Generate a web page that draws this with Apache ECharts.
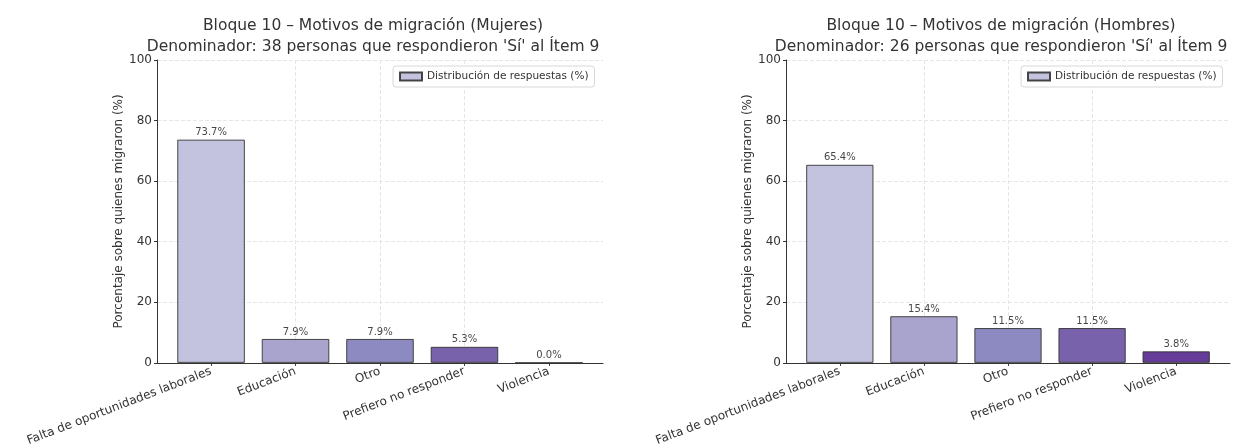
<!DOCTYPE html>
<html><head><meta charset="utf-8">
<script src="https://cdn.jsdelivr.net/npm/echarts@6/dist/echarts.min.js"></script>
<style>html,body{margin:0;padding:0;background:#fff}#c{width:1259px;height:448px}</style>
</head><body><div id="c"></div>
<script>
const categories = ['Falta de oportunidades laborales', 'Educación', 'Otro', 'Prefiero no responder', 'Violencia'];
const mujeresValues = [73.7, 7.9, 7.9, 5.3, 0.0];
const hombresValues = [65.4, 15.4, 11.5, 11.5, 3.8];
const yTicks = [0, 20, 40, 60, 80, 100];
const titleMujeres = 'Bloque 10 – Motivos de migración (Mujeres)\nDenominador: 38 personas que respondieron \'Sí\' al Ítem 9';
const titleHombres = 'Bloque 10 – Motivos de migración (Hombres)\nDenominador: 26 personas que respondieron \'Sí\' al Ítem 9';
const seriesName = 'Distribución de respuestas (%)';
const yName = 'Porcentaje sobre quienes migraron (%)';
const colors = ['#bcbddc', '#9e9ac8', '#807dba', '#6a51a3', '#54278f'];

const FONT = 'DejaVu Sans';
const grids = [
  {left: 157, top: 60, width: 446, height: 305},
  {left: 786, top: 60, width: 444, height: 305}
];
const XMIN = -0.64, XMAX = 4.64;

function xAxis(i) {
  return {
    type: 'value', gridIndex: i, min: XMIN, max: XMAX,
    axisLine: {show: true, onZero: false, lineStyle: {color: '#333', width: 1}},
    axisTick: {show: true, length: 3, lineStyle: {color: '#333'}, customValues: [0,1,2,3,4]},
    axisLabel: {
      rotate: 21, fontFamily: FONT, fontSize: 12, color: '#333', margin: 8,
      customValues: [0,1,2,3,4],
      formatter: v => (Number.isInteger(v) && v >= 0 && v < categories.length) ? categories[v] : ''
    },
    splitLine: {show: true, showMinLine: false, showMaxLine: false, lineStyle: {color: '#e6e6e6', width: 1, type: [4, 2]}}
  };
}
function yAxis(i) {
  return {
    type: 'value', gridIndex: i, min: yTicks[0], max: yTicks[yTicks.length - 1], interval: 20,
    name: yName, nameLocation: 'middle', nameGap: 32,
    nameTextStyle: {fontFamily: FONT, fontSize: 12, color: '#333'},
    axisLine: {show: true, onZero: false, lineStyle: {color: '#333', width: 1}},
    axisTick: {show: true, length: 3, lineStyle: {color: '#333'}},
    axisLabel: {fontFamily: FONT, fontSize: 12, color: '#333', margin: 5},
    splitLine: {show: true, lineStyle: {color: '#e6e6e6', width: 1, type: [4, 2]}}
  };
}
function series(i, vals) {
  const bw = 0.8 * grids[i].width / (XMAX - XMIN);
  return {
    type: 'bar', name: seriesName, xAxisIndex: i, yAxisIndex: i, barWidth: bw,
    itemStyle: {color: colors[0], borderColor: '#333', borderWidth: 1, opacity: 0.9},
    label: {show: true, position: 'top', distance: 2, fontFamily: FONT, fontSize: 10, color: '#333',
      formatter: p => p.value[1].toFixed(1) + '%'},
    data: vals.map((v, k) => ({value: [k, v], itemStyle: {color: colors[k]}}))
  };
}
function legend(i, left) {
  return {
    show: true, left: left, top: 66, orient: 'horizontal',
    backgroundColor: '#fff', borderColor: '#d8d8d8', borderWidth: 1, borderRadius: 3,
    padding: [5, 6], itemWidth: 22, itemHeight: 8, itemGap: 5,
    icon: 'rect',
    textStyle: {fontFamily: FONT, fontSize: 10.5, color: '#333'},
    data: [seriesName],
    seriesIndex: i
  };
}
const chart = echarts.init(document.getElementById('c'), null, {renderer: 'canvas'});
chart.setOption({
  backgroundColor: '#fff',
  animation: false,
  title: [
    {text: titleMujeres, left: 368, top: 10, textAlign: 'center',
     textStyle: {fontFamily: FONT, fontSize: 15.5, fontWeight: 'normal', color: '#333', lineHeight: 21}},
    {text: titleHombres, left: 996, top: 10, textAlign: 'center',
     textStyle: {fontFamily: FONT, fontSize: 15.5, fontWeight: 'normal', color: '#333', lineHeight: 21}}
  ],
  legend: [legend(0, 393), legend(1, 1021)],
  grid: grids,
  xAxis: [xAxis(0), xAxis(1)],
  yAxis: [yAxis(0), yAxis(1)],
  series: [series(0, mujeresValues), series(1, hombresValues)]
});
</script></body></html>
